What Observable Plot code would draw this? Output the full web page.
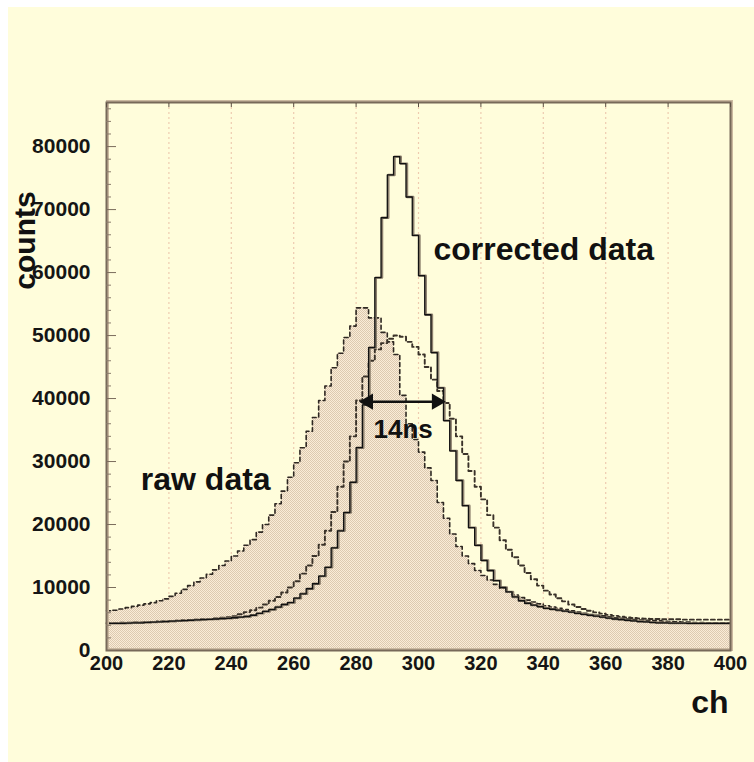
<!DOCTYPE html>
<html><head><meta charset="utf-8">
<script src="https://cdn.jsdelivr.net/npm/d3@7"></script>
<script src="https://cdn.jsdelivr.net/npm/@observablehq/plot@0.6"></script>
<style>
html,body{margin:0;padding:0;background:#fff;}
#bg{position:absolute;left:8px;top:7px;width:746px;height:755px;background:#FFFDDB;}
#chart{position:absolute;left:0;top:0;}
</style></head><body><div id="bg"></div><div id="chart"></div>
<script>
// histogram binning: 2-channel bins from ch 200 to 400
const binStart = 200;
const binWidth = 2;

// raw data (filled histogram)
const rawCounts = [
  6300,6400,6600,6800,7000,7200,7400,7600,7900,8200,
  8600,9100,9700,10300,10900,11500,12100,12800,13500,14200,
  15000,15800,16700,17600,18800,20000,21500,23300,25300,27500,
  29800,32200,34800,37000,39700,42000,44900,47200,49700,51500,
  54400,54400,52800,52800,50500,49000,47000,40500,36000,33500,
  31500,29000,27000,23500,21000,18500,16500,15000,13800,12700,
  11900,11200,10500,9900,9300,8800,8400,8000,7700,7400,
  7100,6900,6700,6500,6300,6100,5900,5700,5600,5500,
  5350,5200,5100,5000,4900,4850,4800,4750,4700,4650,
  4600,4550,4500,4500,4450,4450,4400,4400,4400,4400
];

// corrected data (solid histogram)
const correctedCounts = [
  4300,4300,4300,4350,4400,4400,4450,4500,4550,4600,
  4650,4700,4750,4800,4850,4900,4950,5000,5050,5100,
  5200,5300,5400,5600,5900,6200,6500,6900,7300,7600,
  8300,9000,9800,10600,11800,13200,16300,19000,21900,26700,
  32200,39000,48100,59200,68700,75500,78400,77300,72000,65900,
  59500,53300,47300,41700,36500,31700,27000,23000,19500,16700,
  14300,12700,11100,10000,9300,8500,7900,7500,7200,6950,
  6700,6550,6400,6250,6100,5900,5750,5600,5450,5300,
  5150,5000,4900,4800,4700,4600,4550,4450,4400,4400,
  4350,4350,4350,4300,4300,4300,4300,4300,4300,4300
];

// intermediate (dashed histogram)
const partialCounts = [
  4350,4350,4400,4400,4450,4450,4500,4550,4600,4650,
  4700,4750,4800,4850,4900,4950,5000,5100,5200,5300,
  5450,5750,6100,6400,6800,7300,7900,8500,9200,10000,
  11000,12200,13500,15000,16800,19000,22000,26000,30000,34000,
  39700,43500,46000,47800,48800,49500,50000,49800,49000,48200,
  47000,45000,43000,41200,39300,36800,34000,31200,28500,26000,
  24000,21500,19500,17500,16000,14800,13500,12300,11300,10300,
  9500,8900,8300,7800,7300,6900,6600,6300,6050,5850,
  5650,5500,5350,5250,5150,5100,5050,5000,5000,4950,
  4950,4950,4900,4900,4900,4900,4900,4900,4900,4900
];

const xTicks = [200,220,240,260,280,300,320,340,360,380,400];
const yMajor = [0,10000,20000,30000,40000,50000,60000,70000,80000];
const yMinor = d3.range(0, 87000, 2000).filter(v => v % 10000 !== 0);

// annotations (anchored in data space)
const notes = [
  {text: "corrected data", ch: 304.8, n: 62000, size: 32},
  {text: "raw data", ch: 211, n: 25500, size: 32},
  {text: "14ns", ch: 285.6, n: 33800, size: 26}
];
const fwhm = {from: 282, to: 307.7, n: 39500};

function steps(counts) {
  const rows = counts.map((c, i) => ({ch: binStart + i * binWidth, n: c}));
  rows.push({ch: binStart + counts.length * binWidth, n: counts[counts.length - 1]});
  return rows;
}
const raw = steps(rawCounts);
const corrected = steps(correctedCounts);
const partial = steps(partialCounts);

const font = "'Liberation Sans', Arial, Helvetica, sans-serif";

const svg = Plot.plot({
  width: 754,
  height: 762,
  marginLeft: 106,
  marginRight: 24,
  marginTop: 102,
  marginBottom: 112,
  style: {background: "transparent", fontFamily: font, fontWeight: "bold", color: "#151515"},
  x: {domain: [200, 400]},
  y: {domain: [0, 87000]},
  marks: [
    Plot.ruleX(xTicks.slice(1, -1), {stroke: "#eecbb0", strokeWidth: 1.2, strokeDasharray: "2,3"}),
    Plot.areaY(raw, {x: "ch", y: "n", curve: "step-after", fill: "url(#stipple)"}),
    Plot.lineY(raw, {x: "ch", y: "n", curve: "step-after", stroke: "#2e2822", strokeWidth: 1.6, strokeDasharray: "4,3"}),
    Plot.lineY(partial, {x: "ch", y: "n", curve: "step-after", stroke: "#3a3229", strokeWidth: 1.9, strokeDasharray: "4,3"}),
    Plot.lineY(corrected, {x: "ch", y: "n", curve: "step-after", stroke: "#8d806e", strokeWidth: 2.4, dx: 1}),
    Plot.lineY(corrected, {x: "ch", y: "n", curve: "step-after", stroke: "#111", strokeWidth: 1.3}),
    Plot.frame({stroke: "#cbb9a0", strokeWidth: 3, dx: 1, dy: -1}),
    Plot.frame({stroke: "#776959", strokeWidth: 2}),
    Plot.axisY(yMajor, {tickSize: -10, fill: "none", stroke: "#7a6c5c", label: null}),
    Plot.axisY(yMinor, {tickSize: -5, fill: "none", stroke: "#8a7c6c", label: null}),
    Plot.axisY(yMajor, {tickSize: 0, tickPadding: 16, fontSize: 21, fontWeight: "bold", tickFormat: d3.format("d"), label: null}),
    Plot.axisX(xTicks, {anchor: "top", tickSize: -4, fill: "none", stroke: "#5a4e42", label: null}),
    Plot.axisX(xTicks, {anchor: "bottom", tickSize: 0, tickPadding: 5, fontSize: 20, fontWeight: "bold", tickFormat: d3.format("d"), label: null}),
    Plot.text(["counts"], {frameAnchor: "top-left", textAnchor: "middle", lineAnchor: "middle", dx: -81, dy: 138, rotate: -90, fontSize: 30, fontWeight: "bold", fill: "#111"}),
    Plot.text(["ch"], {frameAnchor: "bottom-right", textAnchor: "end", lineAnchor: "bottom", dx: -2, dy: 62, fontSize: 32, fontWeight: "bold", fill: "#111"}),
    Plot.text(notes, {x: "ch", y: "n", text: "text", fontSize: d => d.size, textAnchor: "start", lineAnchor: "bottom", fontWeight: "bold", fill: "#111"}),
    Plot.link([fwhm], {x1: "from", x2: "to", y1: "n", y2: "n", stroke: "#111", strokeWidth: 2.5}),
    Plot.dot([fwhm], {x: "from", y: "n", symbol: "triangle", r: 6, fill: "#111", rotate: -90, dx: 6}),
    Plot.dot([fwhm], {x: "to", y: "n", symbol: "triangle", r: 6, fill: "#111", rotate: 90, dx: -6})
  ]
});

const defs = d3.select(svg).insert("defs", ":first-child");
const pat = defs.append("pattern").attr("id", "stipple").attr("width", 2).attr("height", 2).attr("patternUnits", "userSpaceOnUse");
pat.append("rect").attr("width", 2).attr("height", 2).attr("fill", "#FAECD7");
pat.append("rect").attr("width", 1).attr("height", 1).attr("fill", "#DDCAB0");
pat.append("rect").attr("x", 1).attr("y", 1).attr("width", 1).attr("height", 1).attr("fill", "#DDCAB0");

document.getElementById("chart").appendChild(svg);
</script>
</body></html>
